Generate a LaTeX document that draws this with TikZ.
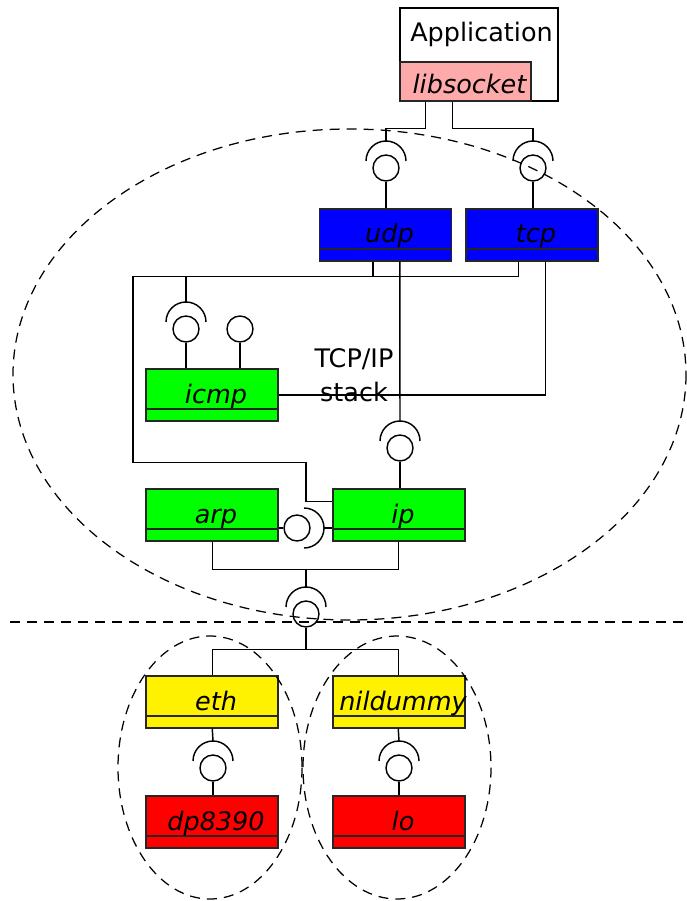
\documentclass[tikz,border=0pt]{standalone}
\usepackage{fontspec}
\setmainfont{DejaVu Sans}
\usetikzlibrary{calc}

\definecolor{libpink}{HTML}{FFAAAA}
\newcommand{\diafont}{\fontsize{25.5}{34}\selectfont}

\tikzset{
  unit/.style={draw=black!85, fill=#1, inner sep=0pt},
  comp/.style={unit=#1, minimum width=132pt, minimum height=52pt,
    path picture={\draw[black!85] ([yshift=12pt]path picture bounding box.south west) -- ([yshift=12pt]path picture bounding box.south east);}},
  lbl/.style={font=\diafont\itshape, text height=19pt, text depth=6pt, inner sep=0pt, xshift=4pt, yshift=-1.5pt},
  ball/.style={circle, draw, fill=white, minimum size=26pt, inner sep=0pt},
  border/.style={line width=1.25pt, dash pattern=on 10pt off 7pt},
  % required interface: cup (origin at its centre) and the ball under it
  pics/socket/.style={code={
    \draw (-20,0) arc[start angle=180, end angle=360, radius=20];
    \coordinate (-top) at (0,-20);
    \node[ball] (-ball) at (0,7) {};
  }},
}

\begin{document}
\begin{tikzpicture}[x=1pt, y=-1pt, line width=1.45pt, font=\diafont]
    \useasboundingbox (0,0) rectangle (686,901);

    % Application with its library
    \node[draw, minimum width=158pt, minimum height=93pt, inner sep=0pt] (app) at (479,54.5) {};
    \node[text height=19pt, text depth=6pt, inner sep=0pt] (apptext) at (481.5,35.5) {Application};
    \node[unit=libpink, minimum width=131pt, minimum height=39pt, label={[lbl, yshift=-4.5pt]center:libsocket}] (lib) at (465.5,81.5) {};

    % Components of the stack and the drivers
    \node[comp=blue, label={[lbl]center:udp}] (udp) at (385.5,235) {};
    \node[comp=blue, label={[lbl]center:tcp}] (tcp) at (532,235) {};
    \node[comp=green, label={[lbl]center:icmp}] (icmp) at (212,395) {};
    \node[comp=green, label={[lbl]center:arp}] (arp) at (212,515) {};
    \node[comp=green, label={[lbl]center:ip}] (ip) at (399,515) {};
    \node[comp=yellow, label={[lbl]center:eth}] (eth) at (212,702) {};
    \node[comp=yellow, label={[lbl]center:nildummy}] (nil) at (399,702) {};
    \node[comp=red, label={[lbl]center:dp8390}] (dp) at (212,822) {};
    \node[comp=red, label={[lbl]center:lo}] (lo) at (399,822) {};

    \node[align=center, inner sep=0pt] (stacklbl) at (354,375) {TCP/IP\\stack};

    % Interfaces
    \pic (s1) at (386,161) {socket};
    \pic (s2) at (533,161) {socket};
    \pic (s3) at (186,322) {socket};
    \node[ball] (icmpball) at (240,329) {};
    \pic (s4) at (400,441) {socket};
    \pic[rotate=-90] (s5) at (304,528) {socket};
    \pic (s6) at (306,607) {socket};
    \pic (s7) at (213,761) {socket};
    \pic (s8) at (399,761) {socket};

    % libsocket -> udp, tcp
    \draw ([xshift=26pt]lib.south west) -- ++(0,27) -| (s1-top);
    \draw ([xshift=53pt]lib.south west) -- ++(0,27) -| (s2-top);
    \draw (s1-ball.south) -- (s1-ball.south |- udp.north);
    \draw (s2-ball.south) -- (s2-ball.south |- tcp.north);

    % udp, tcp -> icmp, ip
    \draw ([xshift=54pt]udp.south west) -- ++(0,15) -- ++(-240,0) -- ++(0,186) -- ++(173,0) |- ([yshift=-13pt]ip.north west);
    \draw ([xshift=53pt]tcp.south west) -- ++(0,15) -| (s3-top);
    \draw ([xshift=81pt]udp.south west) -- (s4-top);
    \draw ([xshift=80pt]tcp.south west) |- (icmp.east);
    \draw (s3-ball.south) -- (s3-ball.south |- icmp.north);
    \draw (icmpball.south) -- (icmpball.south |- icmp.north);
    \draw (s4-ball.south) -- (s4-ball.south |- ip.north);

    % arp <-> ip
    \draw ([yshift=-13pt]arp.east) -- (s5-ball);
    \draw (s5-top) -- (s5-top -| ip.west);

    % arp, ip -> eth, nildummy
    \draw ([xshift=67pt]arp.south west) -- ++(0,28) -| ([xshift=66pt]ip.south west);
    \draw (s6-top) -- ++(0,-18);
    \draw (s6-ball.south) -- ++(0,22) -| ([xshift=67pt]eth.north west);
    \draw (s6-ball.south) -- ++(0,22) -| ([xshift=66pt]nil.north west);

    % drivers
    \draw ([xshift=67pt]eth.south west) -- (s7-top);
    \draw (s7-ball.south) -- (s7-ball.south |- dp.north);
    \draw ([xshift=66pt]nil.south west) -- (s8-top);
    \draw (s8-ball.south) -- (s8-ball.south |- lo.north);

    % Borders
    \draw[border] (349.5,374.5) ellipse [x radius=336.5, y radius=245.5];
    \draw[border] (10,622) -- (686,622);
    \draw[border] (210,767.5) ellipse [x radius=92, y radius=131.5];
    \draw[border] (397,767.5) ellipse [x radius=94, y radius=131.5];
\end{tikzpicture}
\end{document}
